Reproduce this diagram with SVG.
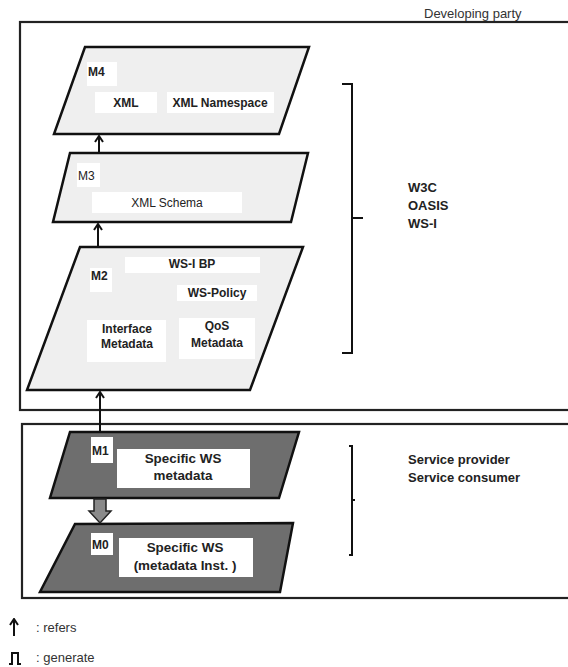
<svg xmlns="http://www.w3.org/2000/svg" width="568" height="667" viewBox="0 0 568 667">
<defs>
<marker id="refers" viewBox="0 0 10 10" refX="9" refY="5" markerWidth="10" markerHeight="10" markerUnits="userSpaceOnUse" orient="auto">
<path d="M3,1 L9,5 L3,9" fill="none" stroke="#111" stroke-width="2"/>
</marker>
</defs>
<style>
.frame{fill:none;stroke:#222;stroke-width:2.2}
.light{fill:#efefef;stroke:#111;stroke-width:2.5;stroke-linejoin:miter}
.dark{fill:#6e6e6e;stroke:#111;stroke-width:2.5}
.lab{fill:#fff}
.t{font-family:"Liberation Sans",Arial,sans-serif;fill:#222;font-size:12px;font-weight:bold}
.tn{font-family:"Liberation Sans",Arial,sans-serif;fill:#222;font-size:12px}
.tb{font-family:"Liberation Sans",Arial,sans-serif;fill:#222;font-size:13.4px;font-weight:bold}
.side{font-family:"Liberation Sans",Arial,sans-serif;fill:#222;font-size:13px;font-weight:bold}
.leg{font-family:"Liberation Sans",Arial,sans-serif;fill:#333;font-size:13px}
.conn{stroke:#111;stroke-width:2;fill:none}
.brace{stroke:#111;stroke-width:2;fill:none}
</style>
<rect width="568" height="667" fill="#fff"/>

<g id="developing-party">
<rect class="frame" x="20" y="22" width="570" height="388"/>
<text class="leg" x="424" y="18">Developing party</text>
</g>
<g id="service-party">
<rect class="frame" x="22" y="424" width="570" height="174"/>
</g>

<g id="M4">
<polygon class="light" points="85,47 309,47 279,134 54,134"/>
<rect class="lab" x="87" y="62" width="30" height="24"/>
<text class="t" x="88" y="76">M4</text>
<rect class="lab" x="95" y="92" width="62" height="21"/>
<text class="t" x="126" y="107" text-anchor="middle">XML</text>
<rect class="lab" x="167" y="92" width="107" height="21"/>
<text class="t" x="220" y="107" text-anchor="middle">XML Namespace</text>
</g>

<g id="M3">
<polygon class="light" points="70,153 308,153 291,222 53,222"/>
<rect class="lab" x="77" y="163" width="23" height="24"/>
<text class="tn" x="78" y="180">M3</text>
<rect class="lab" x="92" y="192" width="150" height="21"/>
<text class="tn" x="167" y="207" text-anchor="middle">XML Schema</text>
</g>

<g id="M2">
<polygon class="light" points="80,247 303,247 250,390 27,390"/>
<rect class="lab" x="90" y="268" width="22" height="24"/>
<text class="t" x="91" y="280">M2</text>
<rect class="lab" x="125" y="257" width="135" height="16"/>
<text class="t" x="192" y="268" text-anchor="middle">WS-I BP</text>
<rect class="lab" x="177" y="285" width="80" height="16"/>
<text class="t" x="217" y="297" text-anchor="middle">WS-Policy</text>
<rect class="lab" x="87" y="320" width="79" height="42"/>
<text class="t" x="127" y="333" text-anchor="middle">Interface</text>
<text class="t" x="127" y="348" text-anchor="middle">Metadata</text>
<rect class="lab" x="179" y="318" width="76" height="41"/>
<text class="t" x="217" y="330" text-anchor="middle">QoS</text>
<text class="t" x="217" y="347" text-anchor="middle">Metadata</text>
</g>

<g id="M1">
<polygon class="dark" points="70,432 299,432 279,498 50,498"/>
<rect class="lab" x="91" y="437" width="22" height="26"/>
<text class="t" x="92" y="455">M1</text>
<rect class="lab" x="117" y="449" width="133" height="39"/>
<text class="tb" x="183" y="463" text-anchor="middle">Specific WS</text>
<text class="tb" x="183" y="480" text-anchor="middle">metadata</text>
</g>

<g id="M0">
<polygon class="dark" points="75,524 293,523 280,592 40,592"/>
<rect class="lab" x="91" y="533" width="22" height="22"/>
<text class="t" x="92" y="549">M0</text>
<rect class="lab" x="119" y="538" width="134" height="39"/>
<text class="tb" x="185" y="552" text-anchor="middle">Specific WS</text>
<text class="tb" x="185" y="570" text-anchor="middle">(metadata Inst. )</text>
</g>

<g id="connectors">
<line class="conn" x1="99" y1="153" x2="99" y2="136" marker-end="url(#refers)"/>
<line class="conn" x1="98" y1="247" x2="98" y2="224" marker-end="url(#refers)"/>
<line class="conn" x1="100" y1="432" x2="100" y2="392" marker-end="url(#refers)"/>
<polygon points="94,499 106,499 106,511 111,511 100,523 89,511 94,511" fill="#8a8a8a" stroke="#222" stroke-width="1.5"/>
</g>

<g id="standards-bodies">
<path class="brace" d="M342,84 H352 V353 H342 M352,218 H363"/>
<text class="side" x="408" y="192">W3C</text>
<text class="side" x="408" y="210">OASIS</text>
<text class="side" x="408" y="228">WS-I</text>
</g>

<g id="service-roles">
<path class="brace" stroke-width="1.5" d="M349,446 H352 V555 H349 M352,500 H355"/>
<text class="side" x="408" y="464">Service provider</text>
<text class="side" x="408" y="482">Service consumer</text>
</g>

<g id="legend">
<line class="conn" x1="14" y1="636" x2="14" y2="619" marker-end="url(#refers)"/>
<text class="leg" x="36" y="632">: refers</text>
<path d="M9,664 H12 V653 H18 V664 H21" fill="none" stroke="#111" stroke-width="2"/>
<text class="leg" x="36" y="662">: generate</text>
</g>
</svg>
